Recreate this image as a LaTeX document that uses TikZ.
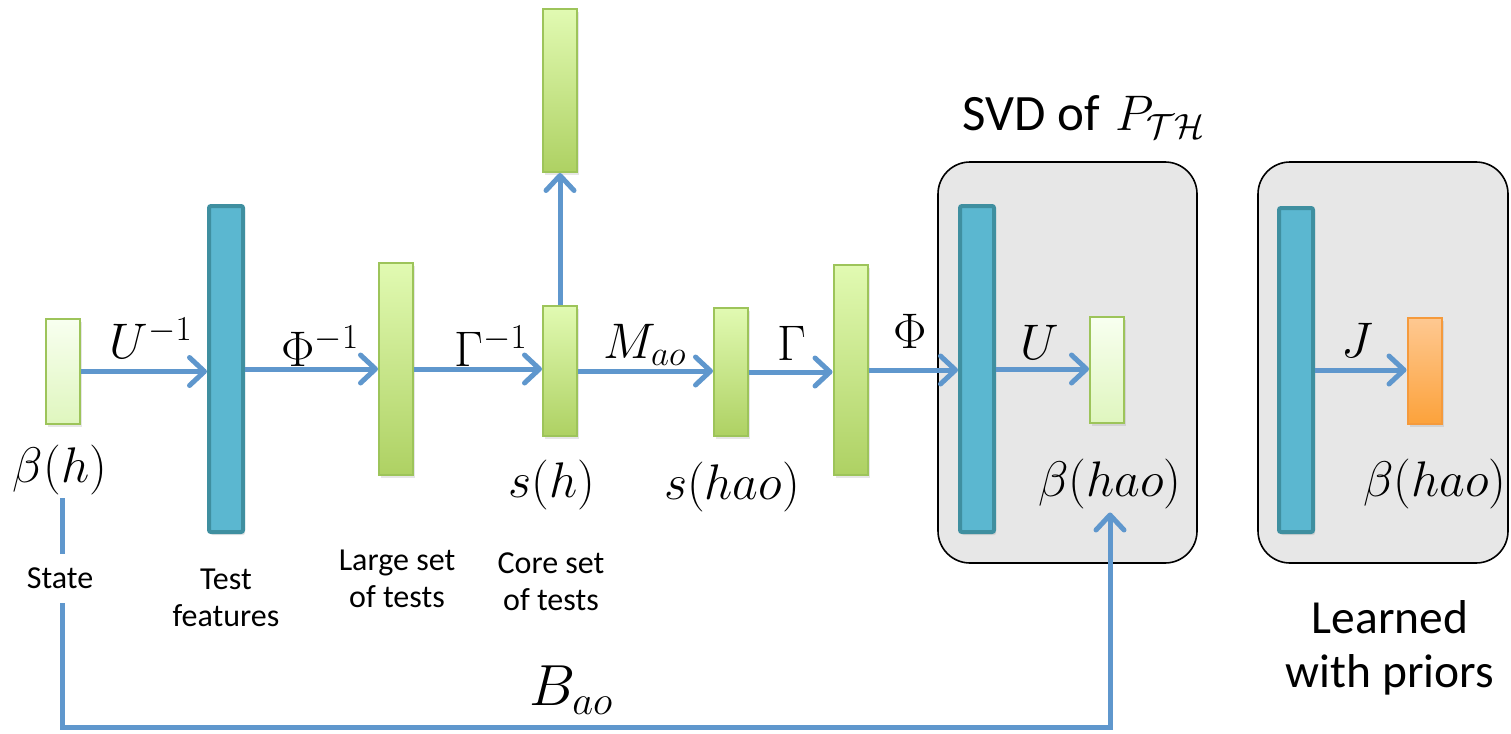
\RequirePackage{fix-cm}
\documentclass[tikz,border=0pt]{standalone}
\usepackage{fontspec}
\usepackage{tikz}
\usetikzlibrary{arrows.meta,calc,shadows}
\newfontfamily\carlito{Carlito}
\definecolor{barblue}{HTML}{5BB7D0}
\definecolor{barblueedge}{HTML}{3F8FA0}
\definecolor{bargreentop}{HTML}{E1FAB2}
\definecolor{bargreenbot}{HTML}{AED163}
\definecolor{baredge}{HTML}{9DC45A}
\definecolor{paletop}{HTML}{F8FFF0}
\definecolor{palebot}{HTML}{DFF6BE}
\definecolor{orangetop}{HTML}{FEC891}
\definecolor{orangebot}{HTML}{FCA23B}
\definecolor{orangeedge}{HTML}{F59A3C}
\definecolor{flowblue}{HTML}{5F97CD}
\definecolor{panelgray}{HTML}{E7E7E7}
\tikzset{
    every node/.style={font=\fontsize{50}{60}\selectfont},
    bar/.style={rectangle,inner sep=0pt,line width=2pt,minimum width=34pt,drop shadow={shadow xshift=2pt,shadow yshift=-3pt,opacity=.2}},
    greenbar/.style={bar,draw=baredge,top color=bargreentop,bottom color=bargreenbot},
    palebar/.style={bar,draw=baredge,top color=paletop,bottom color=palebot},
    bluebar/.style={bar,draw=barblueedge,fill=barblue,line width=4pt,rounded corners=2pt},
    orangebar/.style={bar,draw=orangeedge,top color=orangetop,bottom color=orangebot},
    panel/.style={rectangle,rounded corners=32pt,draw=black,line width=1.6pt,fill=panelgray,inner sep=0pt},
    flow/.style={draw=flowblue,line width=5pt,-{Straight Barb[length=15pt,width=28pt,round]}},
    caption/.style={font=\carlito\fontsize{32}{37}\selectfont,align=center,inner sep=1pt},
    bigcaption/.style={font=\carlito\fontsize{47.5}{54}\selectfont,align=center}
}
\begin{document}
\begin{tikzpicture}[x=1pt,y=-1pt]
\useasboundingbox (0,0) rectangle (1511,733);
% grey panels
\node[panel,minimum width=259pt,minimum height=401pt] (svd) at (1067.5,362.5) {};
\node[panel,minimum width=250pt,minimum height=401pt] (prior) at (1383,362.5) {};
% vectors and matrices
\node[palebar,minimum height=105pt] (state) at (63,371.5) {};
\node[bluebar,minimum height=326pt] (feat) at (226,369) {};
\node[greenbar,minimum height=212pt] (large) at (396,369) {};
\node[greenbar,minimum height=130pt] (core) at (560,371) {};
\node[greenbar,minimum height=163pt] (out) at (560,90.5) {};
\node[greenbar,minimum height=128pt] (shao) at (731,372) {};
\node[greenbar,minimum height=210pt] (full) at (850.5,370) {};
\node[bluebar,minimum height=326pt] (svdU) at (977,369) {};
\node[palebar,minimum height=106pt] (svdbeta) at (1107,370) {};
\node[bluebar,minimum height=324pt] (priorU) at (1296,370) {};
\node[orangebar,minimum height=106pt] (priorbeta) at (1424.5,371) {};
% flow
\draw[flow] (state.east) -- (state.east -| feat.west);
\draw[flow] (feat.east) -- (feat.east -| large.west);
\draw[flow] (large.east) -- (large.east -| core.west);
\draw[flow] (core.east) -- (core.east -| shao.west);
\draw[flow] (shao.east) -- (shao.east -| full.west);
\draw[flow] (full.east) -- (full.east -| svdU.west);
\draw[flow] (svdU.east) -- (svdU.east -| svdbeta.west);
\draw[flow] (priorU.east) -- (priorU.east -| priorbeta.west);
\draw[flow] (core.north) -- (out.south);
\node (uinv) at (151,338) {$U^{-1}$};
\node (phiinv) at (320,346) {$\Phi^{-1}$};
\node (gaminv) at (491,346) {$\Gamma^{-1}$};
\node (mao) at (645,345) {$M_{ao}$};
\node (gam) at (792,343) {$\Gamma$};
\node (phi) at (910,331) {$\Phi$};
\node (ulab) at (1040,342) {$U$};
\node (jlab) at (1357,340) {$J$};
\node (betah) at (60,470) {$\beta(h)$};
\node (sh) at (552,485) {$s(h)$};
\node (shaolab) at (732,487) {$s(hao)$};
\node (betahao) at (1110,484) {$\beta(hao)$};
\node (betahaoJ) at (1435,484) {$\beta(hao)$};
\node (svdtitle) at (1084,117) {{\carlito\fontsize{51}{58}\selectfont SVD of} $P_{\mathcal{T}\mathcal{H}}$};
% B_ao loop
\coordinate (loop) at (62,727);
\draw[flow] (betah.south -| loop) -- (loop) -- (loop -| betahao.south) -- (betahao.south);
\node[font=\fontsize{58}{66}\selectfont] (bao) at (571,690) {$B_{ao}$};
\node[caption,fill=white,inner ysep=14pt] (statecap) at (60,578) {State};
\node[caption] (featcap) at (226,598) {Test\\features};
\node[caption] (largecap) at (397,579) {Large set\\of tests};
\node[caption] (corecap) at (551,582) {Core set\\of tests};
\node[bigcaption] (learned) at (1390,648) {Learned\\with priors};
\end{tikzpicture}
\end{document}
